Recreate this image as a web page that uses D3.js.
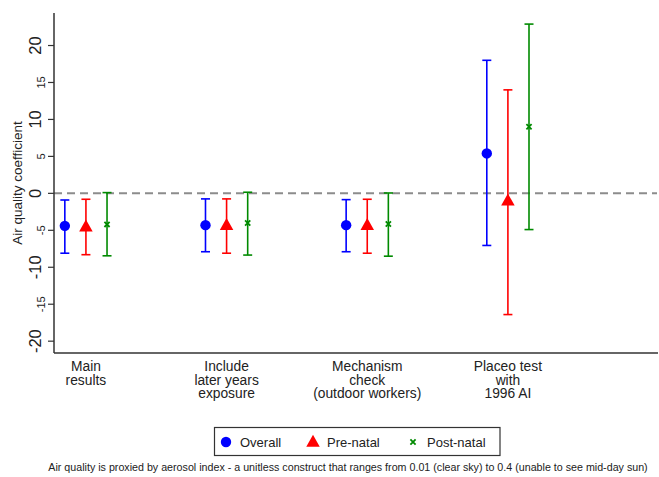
<!DOCTYPE html>
<html><head><meta charset="utf-8">
<script src="https://cdn.jsdelivr.net/npm/d3@7"></script>
<style>body{margin:0;background:#fff;} svg{display:block;font-family:"Liberation Sans",Arial,sans-serif;}</style>
</head><body><svg id="c" width="659" height="477"></svg>
<script>
const categories = [["Main","results"],["Include","later years","exposure"],["Mechanism","check","(outdoor workers)"],["Placeo test","with","1996 AI"]];
const seriesNames = ["Overall","Pre-natal","Post-natal"];
const overallEst = [-4.4, -4.3, -4.3, 5.4];
const overallLo  = [-8.1, -7.9, -7.9, -7.05];
const overallHi  = [-0.9, -0.75, -0.85, 18.0];
const preEst = [-4.5, -4.3, -4.3, -1.0];
const preLo  = [-8.3, -8.1, -8.1, -16.4];
const preHi  = [-0.8, -0.75, -0.8, 14.0];
const postEst = [-4.2, -4.0, -4.15, 9.0];
const postLo  = [-8.45, -8.35, -8.5, -4.9];
const postHi  = [0.1, 0.15, 0.05, 22.9];
const yTicksMajor = [-20,-10,0,10,20];
const yTicksMinor = [-15,-5,5,15];
const note = "Air quality is proxied by aerosol index - a unitless construct that ranges from 0.01 (clear sky) to 0.4 (unable to see mid-day sun)";

const series = [
  {name: seriesNames[0], est: overallEst, lo: overallLo, hi: overallHi, color:"#0000ff", off:-0.15, sym:"circle"},
  {name: seriesNames[1], est: preEst, lo: preLo, hi: preHi, color:"#ff0000", off:0, sym:"triangle"},
  {name: seriesNames[2], est: postEst, lo: postLo, hi: postHi, color:"#008a00", off:0.15, sym:"x"}
];

const svg = d3.select("#c");
const x = d3.scaleLinear().domain([-0.227, 4.06]).range([54, 657]);
const y = d3.scaleLinear().domain([-21.6, 24.4]).range([353, 13]);

// zero dashed line
svg.append("line").attr("x1",54).attr("x2",657).attr("y1",y(0)).attr("y2",y(0))
  .attr("stroke","#8c8c8c").attr("stroke-width",2).attr("stroke-dasharray","8,5");

// axes
const ga = svg.append("g");
ga.append("line").attr("x1",54).attr("x2",54).attr("y1",13).attr("y2",353).attr("stroke","#333").attr("stroke-width",1.5);
ga.append("line").attr("x1",54).attr("x2",658).attr("y1",353).attr("y2",353).attr("stroke","#333").attr("stroke-width",1.5);

const allT = yTicksMajor.concat(yTicksMinor);
ga.selectAll("line.tk").data(allT).enter().append("line").attr("class","tk")
  .attr("x1",48).attr("x2",54).attr("y1",d=>y(d)).attr("y2",d=>y(d)).attr("stroke","#333").attr("stroke-width",1.2);
ga.selectAll("text.maj").data(yTicksMajor).enter().append("text").attr("class","maj")
  .attr("transform",d=>`translate(41,${y(d)}) rotate(-90)`).attr("text-anchor","middle")
  .attr("font-size",16.5).attr("fill","#222").text(d=>d);
ga.selectAll("text.min").data(yTicksMinor).enter().append("text").attr("class","min")
  .attr("transform",d=>`translate(45,${y(d)}) rotate(-90)`).attr("text-anchor","middle")
  .attr("font-size",11).attr("fill","#222").text(d=>d);

svg.append("text").attr("transform","translate(22,183) rotate(-90)").attr("text-anchor","middle")
  .attr("font-size",13.5).attr("fill","#222").text("Air quality coefficient");

// category labels
categories.forEach((lines,i)=>{
  const t = svg.append("text").attr("text-anchor","middle").attr("font-size",13.8).attr("fill","#222");
  lines.forEach((l,j)=>{
    t.append("tspan").attr("x",x(i)).attr("y",371+j*13.7).text(l);
  });
});

// error bars
series.forEach(s=>{
  const g = svg.append("g");
  s.est.forEach((v,i)=>{
    const cx = x(i + s.off);
    g.append("line").attr("x1",cx).attr("x2",cx).attr("y1",y(s.lo[i])).attr("y2",y(s.hi[i])).attr("stroke",s.color).attr("stroke-width",1.6);
    [s.lo[i], s.hi[i]].forEach(e=>{
      g.append("line").attr("x1",cx-4.5).attr("x2",cx+4.5).attr("y1",y(e)).attr("y2",y(e)).attr("stroke",s.color).attr("stroke-width",1.6);
    });
    drawSym(g, s.sym, cx, y(v), s.color, false);
  });
});

function drawSym(g, sym, cx, cy, color, legend){
  if(sym==="circle"){
    g.append("circle").attr("cx",cx).attr("cy",cy).attr("r",5.2).attr("fill",color);
  } else if(sym==="triangle"){
    const h = 12, w = 13.5;
    g.append("path").attr("d",`M${cx},${cy-h*0.6}L${cx+w/2},${cy+h*0.4}L${cx-w/2},${cy+h*0.4}Z`).attr("fill",color);
  } else {
    const r = 2.6;
    g.append("path").attr("d",`M${cx-r},${cy-r}L${cx+r},${cy+r}M${cx-r},${cy+r}L${cx+r},${cy-r}`).attr("stroke",color).attr("stroke-width",1.8);
  }
}

// legend
const lg = svg.append("g");
lg.append("rect").attr("x",214.5).attr("y",427.5).attr("width",285.5).attr("height",28).attr("fill","#fff").attr("stroke","#333").attr("stroke-width",1.2);
const legX = [226, 313, 413];
series.forEach((s,i)=>{
  drawSym(lg, s.sym, legX[i], 442, s.color, true);
  lg.append("text").attr("x",legX[i]+14).attr("y",446.5).attr("font-size",13).attr("fill","#222").text(s.name);
});

svg.append("text").attr("x",348).attr("y",470.5).attr("text-anchor","middle").attr("font-size",10.7).attr("fill","#222").text(note);
</script></body></html>
